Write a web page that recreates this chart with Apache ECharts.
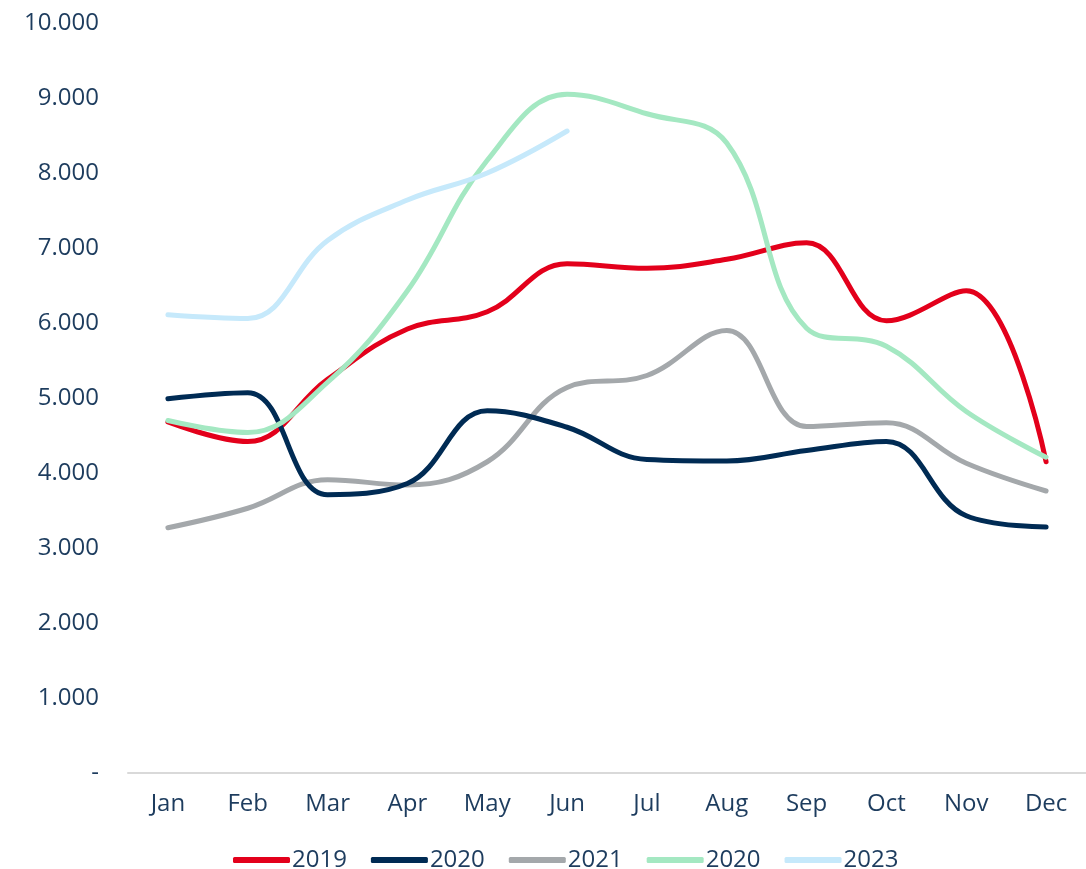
<!DOCTYPE html>
<html>
<head>
<meta charset="utf-8">
<script src="https://cdn.jsdelivr.net/npm/echarts@6/dist/echarts.min.js"></script>
<style>html,body{margin:0;padding:0;background:#fff}#c{width:1086px;height:869px}</style>
</head>
<body>
<div id="c"></div>
<script>
const categories = ['Jan','Feb','Mar','Apr','May','Jun','Jul','Aug','Sep','Oct','Nov','Dec'];
const seriesNames = ['2019','2020','2021','2020','2023'];
const s2019 = [4680, 4420, 5250, 5920, 6150, 6790, 6730, 6850, 7070, 6030, 6430, 4150];
const s2020 = [4990, 5070, 3710, 3860, 4830, 4610, 4180, 4160, 4300, 4420, 3430, 3280];
const s2021 = [3270, 3530, 3910, 3840, 4150, 5140, 5300, 5900, 4620, 4670, 4130, 3760];
const s2020b = [4700, 4540, 5210, 6430, 8170, 9050, 8790, 8400, 5930, 5690, 4820, 4210];
const s2023 = [6110, 6060, 7100, 7640, 8000, 8560];
const colors = ['#e3001b', '#002b54', '#a4a8ab', '#a4e8c2', '#c6e9fb'];
const yTicks = {0:'-',1000:'1.000',2000:'2.000',3000:'3.000',4000:'4.000',5000:'5.000',6000:'6.000',7000:'7.000',8000:'8.000',9000:'9.000',10000:'10.000'};

const txt = '#1d3c5e';
const font = 'Open Sans';
const data = [s2019, s2020, s2021, s2020b, s2023];
const keys = seriesNames.map((n, i) => n + (i === 3 ? ' ' : ''));
const chart = echarts.init(document.getElementById('c'));
chart.setOption({
  animation: false,
  grid: { left: 128, right: -12, top: 23, bottom: 96 },
  legend: {
    left: 228, top: 843,
    itemWidth: 57, itemHeight: 6, itemGap: 24,
    icon: 'roundRect',
    formatter: n => n.trim(),
    textStyle: { color: txt, fontSize: 24, fontFamily: font, padding: [0,0,0,-3] },
    data: keys.map((n, i) => ({ name: n, itemStyle: { color: colors[i] } }))
  },
  xAxis: {
    type: 'category', data: categories, boundaryGap: true,
    axisLine: { lineStyle: { color: '#d9d9d9', width: 2 } },
    axisTick: { show: false },
    axisLabel: { color: txt, fontSize: 24, fontFamily: font, margin: 19 }
  },
  yAxis: {
    type: 'value', min: 0, max: 10000, interval: 1000,
    splitLine: { show: false }, axisLine: { show: false }, axisTick: { show: false },
    axisLabel: { color: txt, fontSize: 24, fontFamily: font, margin: 29, formatter: v => yTicks[v] }
  },
  series: data.map((d, i) => ({
    name: keys[i],
    type: 'line', data: d, smooth: 0.4, showSymbol: false, symbol: 'none',
    lineStyle: { width: 5, color: colors[i], cap: 'round' },
    itemStyle: { color: colors[i] },
    z: [2, 3, 1, 4, 5][i]
  }))
});
</script>
</body>
</html>
